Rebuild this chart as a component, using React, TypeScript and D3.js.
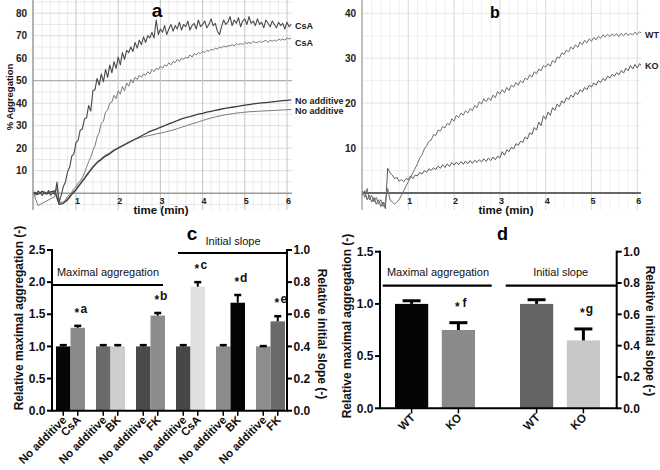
import React from 'react';
import * as d3 from 'd3';

const FONT = '"Liberation Sans", Arial, Helvetica, sans-serif';

// ---- panel a: % aggregation traces. fine traces: one value every 0.05 min, coarse: every 0.1 min
const STEP_FINE = 0.05;
const STEP_COARSE = 0.1;

const csaHighA = [
  0.5, -0.8, 1, 0.2, -1, 0.6, -0.4, 1.2, -0.9, 0.3, -0.6,
  5, -4, -1, 3, 5, 9.5, 11.5, 16.5, 17.5, 22.5,
  23.5, 28, 28.5, 33, 33.5, 39, 36.5, 45.5, 46, 51,
  48, 53, 49.5, 55, 51.5, 57, 53.5, 58.5, 55.5, 60.5,
  57, 62.5, 59.5, 63.5, 62.5, 65, 63, 67, 64.5, 68,
  66, 69.5, 67, 70, 69, 71.5, 69, 77, 70.5, 73,
  71.5, 74.5, 70.5, 73, 75, 72, 74.5, 73, 76, 72.5,
  75, 74, 76.5, 72.5, 74.5, 75.5, 73, 77, 74, 75,
  76.5, 73.5, 75, 77.5, 74.5, 75.5, 72, 70.5, 74, 77,
  75, 76, 78.5, 74.5, 77, 75.5, 78, 74, 76.5, 77.5,
  75, 78.5, 75.5, 76.5, 74.5, 77.5, 75, 76, 73.5, 77,
  75.5, 74, 76.5, 75, 73.5, 76, 74.5, 75.5, 73, 76,
  74, 75,
];

const csaLowA = [
  0, -3, -5.5, -5, -4.5, -4, -3.5, -3, -2.5, -2, -1.5,
  3, -4, -5, -4, -3, -1.5, -0.5, 0.5, 2, 3,
  4.5, 5.5, 7, 9, 11.5, 14, 16, 19, 21, 25,
  27, 31, 32, 36, 37, 40, 40.5, 43.5, 42, 45.5,
  44, 47.5, 45.5, 49, 47.5, 50.5, 49, 51.5, 50.5, 52.5,
  51.5, 53, 52.5, 54, 53, 55, 54, 55.5, 55, 56.5,
  55.5, 57, 56.5, 58, 57, 58.5, 58, 59.5, 58.5, 60,
  59.5, 60.5, 60, 61.5, 60.5, 62, 61.5, 62.5, 62, 63,
  62.5, 63.5, 63, 64, 63.5, 64.5, 64, 65, 64.5, 65.5,
  65, 65.5, 65.5, 66, 65.5, 66.5, 66, 66.5, 66, 67,
  66.5, 67, 66.5, 67.5, 67, 67, 67.5, 67, 67.5, 68,
  67, 68, 67.5, 68, 67.5, 68.5, 68, 68.5, 68, 69,
  68.5, 69,
];

const noAddHighA = [
  0.5, -0.5, 0.8, -0.3, 0.6, 1, -5, -4.5, -3, -0.5,
  1.5, 4, 6.5, 9, 11.5, 13.5, 15, 16.5, 17.5, 19,
  20, 21, 22, 23, 24, 25, 26, 27, 27.8, 28.5,
  29.3, 30, 30.8, 31.5, 32.3, 33, 33.6, 34, 34.6, 35.1,
  35.5, 36, 36.4, 36.8, 37.2, 37.6, 37.9, 38.2, 38.5, 38.8,
  39.1, 39.4, 39.7, 39.9, 40.1, 40.3, 40.5, 40.7, 40.9, 41.1,
  41.3, 41.5,
];

const noAddLowA = [
  -0.3, 0.6, -0.6, 0.4, -0.4, 0.5, -4, -4, -2.5, 0,
  2, 4.5, 7, 9.5, 12, 14, 15.5, 17, 18, 19.3,
  20.3, 21.3, 22.3, 23.2, 24, 24.6, 25.1, 25.5, 25.9, 26.3,
  26.7, 27.1, 27.6, 28.1, 28.7, 29.3, 29.9, 30.5, 31.1, 31.7,
  32.3, 32.9, 33.4, 33.9, 34.3, 34.7, 35, 35.3, 35.6, 35.8,
  36, 36.2, 36.3, 36.4, 36.5, 36.6, 36.7, 36.8, 36.9, 37,
  37.1, 37.2,
];

// ---- panel b: WT vs KO traces, one value every 0.05 min
const wtB = [
  0.5, -1, 1, -1.5, -0.5, -2, -1, -2.5, -1.5, -3, -2,
  1, -1.5, -2, -2.5, -2, -1.5, -0.5, 0.5, 1.5, 2.5,
  3.5, 4.5, 5.5, 6.5, 7.8, 8.5, 9.8, 10.5, 11.5, 11.8,
  13, 12.8, 14, 13.8, 14.8, 14.5, 15.5, 15.2, 16.5, 16,
  17.3, 16.8, 17.8, 17.3, 18.3, 17.8, 18.8, 18.3, 19.5, 19,
  20.3, 19.8, 21, 20.3, 21.2, 20.6, 21.8, 21.2, 22.6, 22,
  23, 22.3, 23.5, 22.8, 24, 23.6, 24.6, 24, 25, 24.5,
  25.6, 25.2, 26.3, 25.8, 27, 26.5, 27.6, 27.2, 28.4, 28,
  28.8, 28.2, 29.5, 29, 30.3, 30, 31.2, 30.8, 31.8, 31.4,
  32.5, 32, 33, 32.4, 33.6, 33, 34, 33.4, 34.3, 33.8,
  34.6, 34.1, 34.9, 34.4, 35.2, 34.7, 35.3, 34.8, 35.4, 35,
  35.4, 34.8, 35.5, 35, 35.6, 35.1, 35.5, 35.2, 35.8, 35.3,
  35.9, 35.5,
];

const koB = [
  -0.5, 0.5, -1.5, -0.5, -2, -1, -2.5, -1.5, -3, -2, -3.5,
  5.5, 4.5, 4, 3.2, 3.5, 2.6, 3, 2.5, 3.2, 3,
  3.8, 3.2, 4, 3.8, 4.6, 4.2, 5, 4.6, 5.4, 5,
  5.6, 5.2, 6, 5.5, 6.3, 5.7, 6.5, 5.9, 6.8, 6.2,
  6.9, 6.3, 7, 6.4, 7.1, 6.5, 7.2, 6.6, 7.3, 6.8,
  7.4, 6.9, 7.6, 7, 7.8, 7.2, 8, 7.4, 8.2, 7.8,
  9.2, 8.4, 9.6, 9.2, 10.2, 9.8, 11, 10.6, 11.5, 11.3,
  12.5, 12, 13.4, 13, 14.6, 14, 15.8, 15, 17.2, 16.4,
  18, 17.3, 19, 18.4, 19.8, 19.2, 20.5, 20, 21.2, 20.8,
  21.8, 21.3, 22.4, 21.9, 23, 22.5, 23.5, 23, 24, 23.6,
  24.5, 24, 25, 24.6, 25.5, 25, 26, 25.6, 26.4, 26,
  26.8, 26.3, 27.3, 26.7, 27.8, 27.2, 28.4, 27.6, 28.6, 27.8,
  28.8, 28.2,
];

const timeTicks = [1, 2, 3, 4, 5, 6];
const aggTicksA = [10, 20, 30, 40, 50, 60, 70, 80];
const aggTicksB = [10, 20, 30, 40];

// ---- panel c: relative values (left axis units), pairs per group
const cLabels = [
  ['No additive', 'CsA'], ['No additive', 'BK'], ['No additive', 'FK'],
  ['No additive', 'CsA'], ['No additive', 'BK'], ['No additive', 'FK'],
];
const cValues = [[1.0, 1.29], [1.0, 1.0], [1.0, 1.48], [1.0, 1.93], [1.0, 1.68], [1.0, 1.39]];
const cErrors = [[0.02, 0.03], [0.02, 0.02], [0.02, 0.04], [0.02, 0.07], [0.02, 0.12], [0.005, 0.08]];
const cStars = [[null, 'a'], [null, null], [null, 'b'], [null, 'c'], [null, 'd'], [null, 'e']];
const cColors = [
  ['#060606', '#8a8a8a'], ['#6b6b6b', '#cdcdcd'], ['#4a4a4a', '#8c8c8c'],
  ['#474747', '#e0e0e0'], ['#8c8c8c', '#050505'], ['#8e8e8e', '#6a6a6a'],
];

// ---- panel d
const dLabels = [['WT', 'KO'], ['WT', 'KO']];
const dValues = [[1.0, 0.75], [1.0, 0.65]];
const dErrors = [[0.03, 0.07], [0.04, 0.11]];
const dStars = [[null, 'f'], [null, 'g']];
const dColors = [['#050505', '#8a8a8a'], ['#646464', '#c8c8c8']];

type TraceDef = { values: number[]; step: number; color: string; width: number };

type TracePanelProps = {
  id: string;
  left: number;
  right: number;
  x: d3.ScaleLinear<number, number>;
  y: d3.ScaleLinear<number, number>;
  yTicks: number[];
  traces: TraceDef[];
  zeroColor: string;
  zeroWidth: number;
  axisColor: string;
  majorV: string;
  majorH: string;
  minor: string;
  darkH?: number;
  labelCx: number;
};

const TracePanel = (p: TracePanelProps) => {
  const top = 0;
  const bottom = 210;
  const vMinor = d3.range(0, 6.11, 0.2).filter((t) => Math.abs(t - Math.round(t)) > 0.01);
  const y0 = p.y.invert(bottom);
  const y1 = p.y.invert(top);
  const hLines = d3.range(Math.ceil(y0 / 5) * 5, y1, 5).filter((v) => v !== 0);
  return (
    <g>
      <defs>
        <clipPath id={p.id}>
          <rect x={p.left} y={top} width={p.right - p.left} height={bottom - top} />
        </clipPath>
      </defs>
      {vMinor.map((t) => (
        <line key={'vm' + t} x1={p.x(t)} x2={p.x(t)} y1={top} y2={bottom} stroke={p.minor} strokeWidth={0.8} />
      ))}
      {hLines.map((v) => (
        <line
          key={'h' + v}
          x1={p.left}
          x2={p.right}
          y1={p.y(v)}
          y2={p.y(v)}
          stroke={v === p.darkH ? '#b0b0b0' : v % 10 === 0 ? p.majorH : p.minor}
          strokeWidth={v === p.darkH ? 1.2 : 0.9}
        />
      ))}
      {timeTicks.map((t) => (
        <line key={'vM' + t} x1={p.x(t)} x2={p.x(t)} y1={top} y2={bottom} stroke={p.majorV} strokeWidth={1.1} />
      ))}
      <line x1={p.left} x2={p.right} y1={p.y(0)} y2={p.y(0)} stroke={p.zeroColor} strokeWidth={p.zeroWidth} />
      <line x1={p.left} x2={p.left} y1={top} y2={bottom} stroke={p.axisColor} strokeWidth={1.5} />
      <g clipPath={`url(#${p.id})`}>
        {p.traces.map((tr, k) => {
          const gen = d3
            .line<number>()
            .x((_, i) => p.x(i * tr.step))
            .y((d) => p.y(d));
          return <path key={k} d={gen(tr.values) || ''} fill="none" stroke={tr.color} strokeWidth={tr.width} strokeLinejoin="round" />;
        })}
      </g>
      {p.yTicks.map((v) => (
        <text key={'yt' + v} x={p.left - 6} y={p.y(v) + 3.6} textAnchor="end" fontSize={10} fontWeight="bold" fill="#222">
          {v}
        </text>
      ))}
      {timeTicks.map((t) => (
        <text key={'xt' + t} x={p.x(t) + 1.5} y={203.5} textAnchor="middle" fontSize={9} fontWeight="bold" fill="#222">
          {t}
        </text>
      ))}
      <text x={p.labelCx} y={214} textAnchor="middle" fontSize={11.5} fontWeight="bold" fill="#111">
        time (min)
      </text>
    </g>
  );
};

type Header = { text: string; x1: number; x2: number; y: number; tx: number; ty: number };

type BarPanelProps = {
  left: number;
  right: number;
  top: number;
  bottom: number;
  groupRange: [number, number];
  groupPad: number;
  innerPad: number;
  leftMax: number;
  leftStep: number;
  rightMax: number;
  rightStep: number;
  labels: string[][];
  values: number[][];
  errors: number[][];
  stars: (string | null)[][];
  colors: string[][];
  capWidth: number;
  capStroke: number;
  errStroke: number;
  starGap: number;
  headers: Header[];
  title: string;
  titleX: number;
  titleY: number;
  titleSize: number;
  leftTitle: string;
  leftTitleX: number;
  leftTitleY: number;
  rightTitle: string;
  rightTitleX: number;
  rightTitleY: number;
};

const BarPanel = (p: BarPanelProps) => {
  const groups = p.values.map((_, i) => String(i));
  const gx = d3.scaleBand<string>().domain(groups).range(p.groupRange).paddingInner(p.groupPad).paddingOuter(0);
  const ix = d3.scaleBand<string>().domain(['0', '1']).range([0, gx.bandwidth()]).paddingInner(p.innerPad);
  const yL = d3.scaleLinear().domain([0, p.leftMax]).range([p.bottom, p.top]);
  const yR = d3.scaleLinear().domain([0, p.rightMax]).range([p.bottom, p.top]);
  const lt = d3.range(0, p.leftMax + 1e-9, p.leftStep);
  const rt = d3.range(0, p.rightMax + 1e-9, p.rightStep);
  const fmt = d3.format('.1f');
  const bars = p.values.flatMap((vals, g) =>
    vals.map((v, j) => {
      const x = (gx(String(g)) || 0) + (ix(String(j)) || 0);
      const w = ix.bandwidth();
      return { g, j, v, x, w, cx: x + w / 2, err: p.errors[g][j], color: p.colors[g][j], label: p.labels[g][j], star: p.stars[g][j] };
    })
  );
  return (
    <g>
      {bars.map((b) => (
        <rect key={'r' + b.g + b.j} x={b.x} y={yL(b.v)} width={b.w} height={p.bottom - yL(b.v)} fill={b.color} />
      ))}
      {bars.map((b) => (
        <g key={'e' + b.g + b.j}>
          <line x1={b.cx} x2={b.cx} y1={yL(b.v)} y2={yL(b.v + b.err)} stroke="#000" strokeWidth={p.errStroke} />
          <line
            x1={b.cx - p.capWidth / 2}
            x2={b.cx + p.capWidth / 2}
            y1={yL(b.v + b.err)}
            y2={yL(b.v + b.err)}
            stroke="#000"
            strokeWidth={p.capStroke}
          />
        </g>
      ))}
      {bars
        .filter((b) => b.star)
        .map((b) => {
          const by = yL(b.v + b.err) - p.starGap;
          return (
            <g key={'s' + b.g + b.j} fontWeight="bold" fill="#111">
              <text x={b.cx - 1} y={by + 4} textAnchor="middle" fontSize={12}>
                *
              </text>
              <text x={b.cx + 6} y={by} textAnchor="middle" fontSize={12}>
                {b.star}
              </text>
            </g>
          );
        })}
      {/* axes */}
      <line x1={p.left} x2={p.left} y1={p.top - 1} y2={p.bottom} stroke="#000" strokeWidth={2} />
      <line x1={p.right} x2={p.right} y1={p.top - 1} y2={p.bottom} stroke="#000" strokeWidth={2} />
      <line x1={p.left - 1} x2={p.right + 1} y1={p.bottom} y2={p.bottom} stroke="#000" strokeWidth={2} />
      {lt.map((v) => (
        <g key={'l' + v}>
          <line x1={p.left - 5} x2={p.left} y1={yL(v)} y2={yL(v)} stroke="#000" strokeWidth={2} />
          <text x={p.left - 6.5} y={yL(v) + 4.2} textAnchor="end" fontSize={12} fontWeight="bold" fill="#111">
            {fmt(v)}
          </text>
        </g>
      ))}
      {rt.map((v) => (
        <g key={'rt' + v}>
          <line x1={p.right} x2={p.right + 5} y1={yR(v)} y2={yR(v)} stroke="#000" strokeWidth={2} />
          <text x={p.right + 6.5} y={yR(v) + 4.2} textAnchor="start" fontSize={12} fontWeight="bold" fill="#111">
            {fmt(v)}
          </text>
        </g>
      ))}
      {bars.map((b) => (
        <g key={'t' + b.g + b.j}>
          <line x1={b.cx} x2={b.cx} y1={p.bottom} y2={p.bottom + 5} stroke="#000" strokeWidth={1.5} />
          <text
            transform={`translate(${b.cx + 4},${p.bottom + 10}) rotate(-45)`}
            textAnchor="end"
            fontSize={11.5}
            fontWeight="bold"
            fill="#111"
          >
            {b.label}
          </text>
        </g>
      ))}
      {p.headers.map((h) => (
        <g key={h.text}>
          <line x1={h.x1} x2={h.x2} y1={h.y} y2={h.y} stroke="#000" strokeWidth={2.2} />
          <text x={h.tx} y={h.ty} textAnchor="middle" fontSize={11} fill="#111">
            {h.text}
          </text>
        </g>
      ))}
      <text x={p.titleX} y={p.titleY} textAnchor="middle" fontSize={p.titleSize} fontWeight="bold" fill="#000">
        {p.title}
      </text>
      <text
        transform={`translate(${p.leftTitleX},${p.leftTitleY}) rotate(-90)`}
        textAnchor="middle"
        dominantBaseline="central"
        fontSize={12}
        fontWeight="bold"
        fill="#111"
      >
        {p.leftTitle}
      </text>
      <text
        transform={`translate(${p.rightTitleX},${p.rightTitleY}) rotate(90)`}
        textAnchor="middle"
        dominantBaseline="central"
        fontSize={12}
        fontWeight="bold"
        fill="#111"
      >
        {p.rightTitle}
      </text>
    </g>
  );
};

export default function App() {
  const ax = d3.scaleLinear().domain([0, 6]).range([33.8, 287]);
  const ay = d3.scaleLinear().domain([0, 80]).range([193.2, 13.2]);
  const bx = d3.scaleLinear().domain([0, 6]).range([362.5, 637.3]);
  const by = d3.scaleLinear().domain([0, 40]).range([193, 13.3]);

  return (
    <svg
      width={660}
      height={470}
      viewBox="0 0 660 470"
      style={{ position: 'absolute', left: 0, top: 0, background: '#fff' }}
      fontFamily={FONT}
    >
      <rect x={0} y={0} width={660} height={470} fill="#fff" />

      {/* panel a */}
      <TracePanel
        id="clipA"
        left={33}
        right={292}
        x={ax}
        y={ay}
        yTicks={aggTicksA}
        traces={[
          { values: noAddLowA, step: STEP_COARSE, color: '#7c7c7c', width: 1 },
          { values: noAddHighA, step: STEP_COARSE, color: '#3c3c3c', width: 1.3 },
          { values: csaLowA, step: STEP_FINE, color: '#7a7a7a', width: 1 },
          { values: csaHighA, step: STEP_FINE, color: '#4a4a4a', width: 1.1 },
        ]}
        zeroColor="#9a9a9a"
        zeroWidth={1.5}
        axisColor="#9a9a9a"
        majorV="#c9c9c9"
        majorH="#dadada"
        minor="#e6e6e6"
        darkH={50}
        labelCx={161}
      />
      <text x={157} y={17} textAnchor="middle" fontSize={19} fontWeight="bold">
        a
      </text>
      <text transform="translate(9,97) rotate(-90)" textAnchor="middle" dominantBaseline="central" fontSize={9.5} fontWeight="bold" fill="#111">
        % Aggregation
      </text>
      <g fontSize={9} fontWeight="bold" fill="#222">
        <text x={295} y={29}>CsA</text>
        <text x={295} y={46}>CsA</text>
        <text x={295} y={104}>No additive</text>
        <text x={295} y={114}>No additive</text>
      </g>

      {/* panel b */}
      <TracePanel
        id="clipB"
        left={362}
        right={641}
        x={bx}
        y={by}
        yTicks={aggTicksB}
        traces={[
          { values: koB, step: STEP_FINE, color: '#5a5a5a', width: 1 },
          { values: wtB, step: STEP_FINE, color: '#6e6e6e', width: 1 },
        ]}
        zeroColor="#666"
        zeroWidth={2}
        axisColor="#aaa"
        majorV="#dcdcdc"
        majorH="#e2e2e2"
        minor="#ececec"
        labelCx={506}
      />
      <text x={495} y={18} textAnchor="middle" fontSize={16} fontWeight="bold">
        b
      </text>
      <g fontSize={9} fontWeight="bold" fill="#222">
        <text x={645} y={38}>WT</text>
        <text x={645} y={69}>KO</text>
      </g>

      {/* panel c */}
      <BarPanel
        left={52}
        right={287}
        top={250}
        bottom={410.7}
        groupRange={[56, 285]}
        groupPad={0.275}
        innerPad={0}
        leftMax={2.5}
        leftStep={0.5}
        rightMax={1}
        rightStep={0.2}
        labels={cLabels}
        values={cValues}
        errors={cErrors}
        stars={cStars}
        colors={cColors}
        capWidth={7}
        capStroke={2.5}
        errStroke={2}
        starGap={13}
        headers={[
          { text: 'Maximal aggregation', x1: 53, x2: 163, y: 285, tx: 108, ty: 275.5 },
          { text: 'Initial slope', x1: 178, x2: 287, y: 253, tx: 233, ty: 244.5 },
        ]}
        title="c"
        titleX={192}
        titleY={240}
        titleSize={19}
        leftTitle="Relative maximal aggregation (-)"
        leftTitleX={19}
        leftTitleY={318}
        rightTitle="Relative initial slope (-)"
        rightTitleX={322}
        rightTitleY={334}
      />

      {/* panel d */}
      <BarPanel
        left={380}
        right={616.7}
        top={251.7}
        bottom={408.3}
        groupRange={[395, 600]}
        groupPad={0.36}
        innerPad={0.29}
        leftMax={1.5}
        leftStep={0.5}
        rightMax={1}
        rightStep={0.2}
        labels={dLabels}
        values={dValues}
        errors={dErrors}
        stars={dStars}
        colors={dColors}
        capWidth={18}
        capStroke={3}
        errStroke={3}
        starGap={16}
        headers={[
          { text: 'Maximal aggregation', x1: 382.7, x2: 491.7, y: 285.7, tx: 438, ty: 275.5 },
          { text: 'Initial slope', x1: 505.7, x2: 616.7, y: 285.7, tx: 560.7, ty: 275.5 },
        ]}
        title="d"
        titleX={502.5}
        titleY={240}
        titleSize={18}
        leftTitle="Relative maximal aggregation (-)"
        leftTitleX={347}
        leftTitleY={326}
        rightTitle="Relative initial slope (-)"
        rightTitleX={650}
        rightTitleY={331}
      />
    </svg>
  );
}
